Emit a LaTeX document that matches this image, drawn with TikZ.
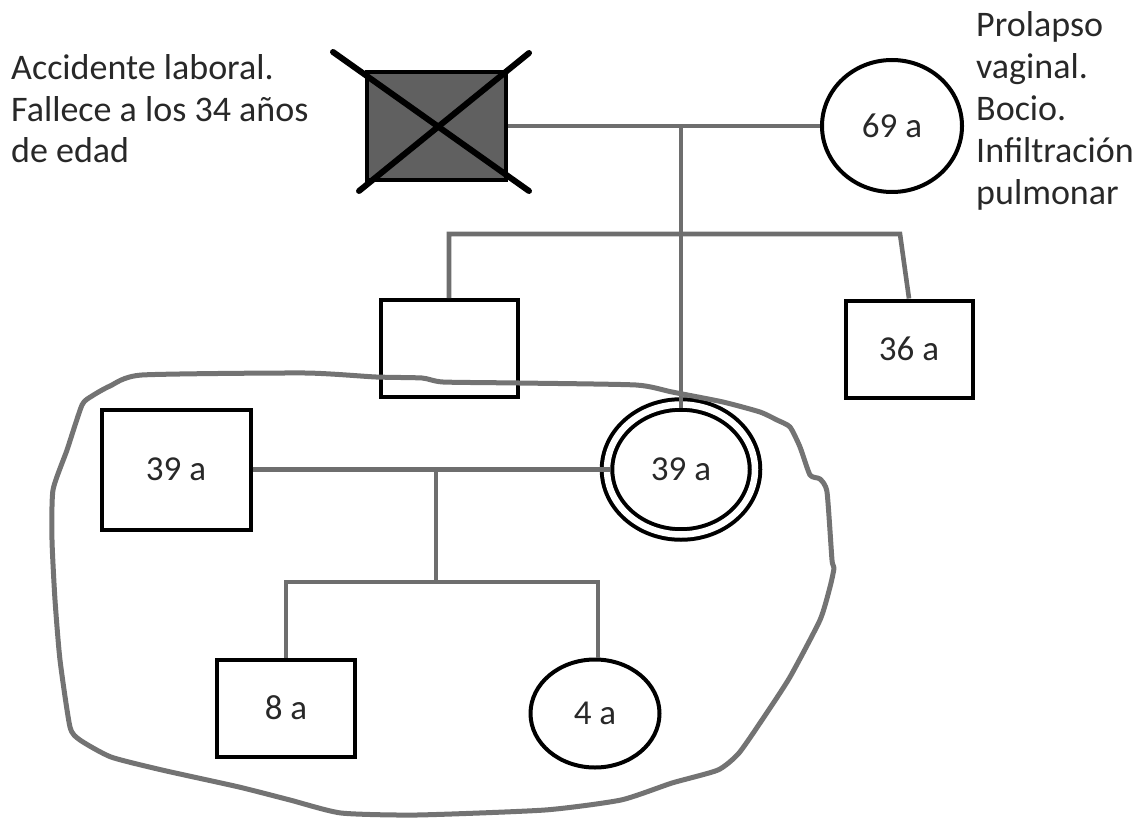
\documentclass[tikz,border=0pt]{standalone}
\usepackage{fontspec}
\setmainfont{Carlito}
\usetikzlibrary{shapes.geometric}
\definecolor{lgray}{RGB}{110,110,110}
\definecolor{ogray}{RGB}{115,115,115}
\definecolor{dfill}{RGB}{96,96,96}
\definecolor{tcol}{RGB}{40,40,40}
\begin{document}
\begin{tikzpicture}[x=1pt,y=-1pt,
  box/.style={draw=black,line width=4pt,rectangle,inner sep=0pt,text=tcol,font=\fontsize{35}{42}\selectfont},
  circ/.style={draw=black,line width=4pt,ellipse,inner sep=0pt,text=tcol,font=\fontsize{35}{42}\selectfont},
  conn/.style={draw=lgray,line width=4.6pt},
  outl/.style={draw=ogray,line width=5pt,line join=round},
  cross/.style={draw=black,line width=6pt,line cap=round},
  lbl/.style={anchor=base west,inner sep=0pt,text=tcol,font=\fontsize{36}{43}\selectfont}]
\path[use as bounding box] (0,0) rectangle (1148,818);

% texts
\node[lbl] (la) at (11,80) {Accidente laboral.};
\node[lbl] (lb) at (11,121.5) {Fallece a los 34 años};
\node[lbl] (lc) at (11,163) {de edad};
\node[lbl] (ra) at (976,37) {Prolapso};
\node[lbl] (rb) at (976,79) {vaginal.};
\node[lbl] (rc) at (976,121) {Bocio.};
\node[lbl] (rd) at (976,163) {Infiltración};
\node[lbl] (re) at (976,205) {pulmonar};

% generation I
\node[box,fill=dfill,minimum width=139pt,minimum height=108pt] (dec) at (436.5,126) {};
\node[circ,minimum width=140pt,minimum height=132pt] (gm) at (892,126) {69 a};
% generation II
\node[box,minimum width=137pt,minimum height=97pt] (u1) at (449,348.5) {};
\node[box,minimum width=127pt,minimum height=97pt] (u2) at (909,349) {36 a};
\node[box,minimum width=149pt,minimum height=120pt] (f) at (176,469.5) {39 a};
\node[circ,double=white,double distance=6.5pt,minimum width=148pt,minimum height=130pt] (m) at (681,469.5) {39 a};
% generation III
\node[box,minimum width=138pt,minimum height=97pt] (s) at (286,708) {8 a};
\node[circ,minimum width=129pt,minimum height=108pt] (d) at (595,713.5) {4 a};

% deceased cross
\coordinate (x1) at (333,52);
\coordinate (x2) at (529,191);
\coordinate (x3) at (529,53);
\coordinate (x4) at (359,191);
\draw[cross] (x1) -- (x2);
\draw[cross] (x3) -- (x4);

% connectors
\coordinate (c1) at (681,126);
\coordinate (st) at (449,234);
\coordinate (st2) at (900,234);
\coordinate (c2) at (436,469.5);
\coordinate (c3) at (436,582);
\coordinate (sb1) at (286,582);
\coordinate (sb2) at (598,582);
\draw[conn] (dec.east) -- (gm.west);
\draw[conn] (c1) -- ([yshift=-5pt]m.north);
\draw[conn] (u1.north) -- (st) -- (st2) -- (u2.north);
\draw[conn] (f.east) -- ([xshift=5pt]m.west);
\draw[conn] (c2) -- (c3);
\draw[conn] (s.north) -- (sb1) -- (sb2) -- (sb2 |- d.north);

% freehand outline
\draw[outl] plot[smooth cycle,tension=0.35] coordinates {
 (142,375) (305,373) (376,377) (422,378) (443,382) (519,383) (636,385)
 (672,392) (723,402) (760,412) (777,420) (790,427) (800,447) (810,475)
 (820,479) (827,492) (832,560) (834,568) (830,587) (820,620) (790,677)
 (764,717) (739,753) (718,770) (672,783) (621,800) (545,810) (417,815)
 (341,813) (290,800) (239,787) (162,770) (111,757) (80,740) (70,727)
 (60,660) (55,600) (52,540) (53,490) (67,450) (82,405) (92,396) (110,386)};
\end{tikzpicture}
\end{document}
